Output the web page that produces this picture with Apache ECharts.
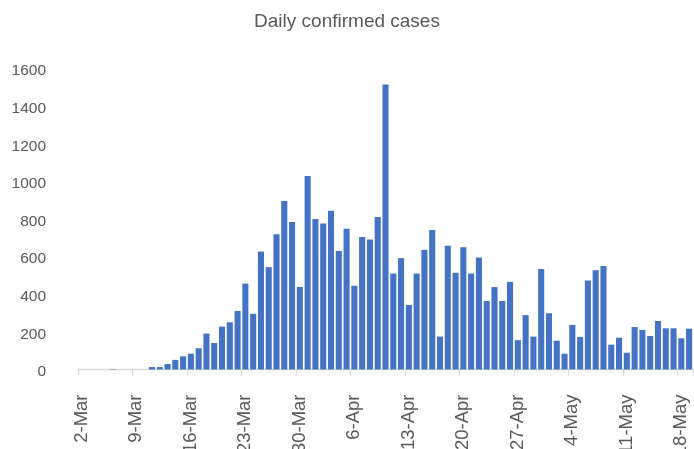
<!DOCTYPE html>
<html>
<head>
<meta charset="utf-8">
<script src="https://cdn.jsdelivr.net/npm/echarts@6/dist/echarts.min.js"></script>
<style>html,body{margin:0;padding:0;background:#fff}#c{width:694px;height:449px}</style>
</head>
<body>
<div id="c"></div>
<script>
const dates = ["2-Mar","3-Mar","4-Mar","5-Mar","6-Mar","7-Mar","8-Mar","9-Mar","10-Mar","11-Mar","12-Mar","13-Mar","14-Mar","15-Mar","16-Mar","17-Mar","18-Mar","19-Mar","20-Mar","21-Mar","22-Mar","23-Mar","24-Mar","25-Mar","26-Mar","27-Mar","28-Mar","29-Mar","30-Mar","31-Mar","1-Apr","2-Apr","3-Apr","4-Apr","5-Apr","6-Apr","7-Apr","8-Apr","9-Apr","10-Apr","11-Apr","12-Apr","13-Apr","14-Apr","15-Apr","16-Apr","17-Apr","18-Apr","19-Apr","20-Apr","21-Apr","22-Apr","23-Apr","24-Apr","25-Apr","26-Apr","27-Apr","28-Apr","29-Apr","30-Apr","1-May","2-May","3-May","4-May","5-May","6-May","7-May","8-May","9-May","10-May","11-May","12-May","13-May","14-May","15-May","16-May","17-May","18-May","19-May"];
const cases = [0,0,0,0,2,0,0,0,0,13,13,29,51,70,84,113,191,141,228,251,311,457,296,627,544,719,896,784,439,1029,800,776,844,630,748,445,704,691,811,1515,510,592,343,510,636,741,175,658,514,650,510,595,364,438,364,466,156,289,175,534,299,153,84,237,173,473,528,550,132,169,89,226,210,178,258,219,219,166,217];
const yTicks = {min: 0, max: 1600, interval: 200};

const chart = echarts.init(document.getElementById('c'), null, {renderer: 'canvas'});
const font = "'Liberation Sans', Arial, Helvetica, sans-serif";
chart.setOption({
  animation: false,
  textStyle: {fontFamily: font},
  title: {
    text: 'Daily confirmed cases',
    left: 'center',
    top: 7,
    textStyle: {fontSize: 19, fontWeight: 'normal', color: '#595959', fontFamily: font}
  },
  grid: {left: 78, right: 1, top: 68.5, bottom: 79.5, containLabel: false, outerBoundsMode: 'none'},
  xAxis: {
    type: 'category',
    data: dates,
    boundaryGap: true,
    axisLine: {lineStyle: {color: '#d9d9d9', width: 1.3}},
    axisTick: {show: true, interval: 6, length: 6, lineStyle: {color: '#d9d9d9', width: 1.3}},
    axisLabel: {interval: 6, rotate: 90, margin: 25, fontSize: 18.5, color: '#595959', fontFamily: font}
  },
  yAxis: {
    type: 'value',
    min: yTicks.min, max: yTicks.max, interval: yTicks.interval,
    axisLine: {show: false},
    axisTick: {show: false},
    splitLine: {show: false},
    axisLabel: {
      margin: 32, fontSize: 15.5, color: '#595959', fontFamily: font,
      verticalAlign: 'top', lineHeight: 5,
      formatter: function (v) { return String(v); }
    }
  },
  series: [{
    type: 'bar',
    data: cases,
    barCategoryGap: '22%',
    itemStyle: {color: '#4472C4'}
  }]
});
</script>
</body>
</html>
